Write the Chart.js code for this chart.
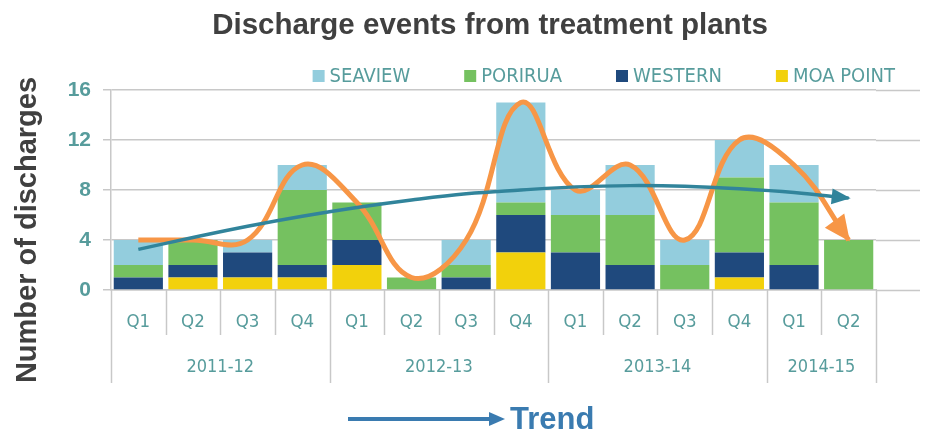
<!DOCTYPE html>
<html><head><meta charset="utf-8">
<script src="https://cdn.jsdelivr.net/npm/chart.js@4.4.1/dist/chart.umd.min.js"></script>
<style>html,body{margin:0;padding:0;background:#fff;}#wrap{position:relative;width:925px;height:433px;}</style>
</head><body><div id="wrap"><canvas id="c" width="925" height="433"></canvas></div>
<script>
const quarters = ['Q1','Q2','Q3','Q4','Q1','Q2','Q3','Q4','Q1','Q2','Q3','Q4','Q1','Q2'];
const years = ['2011-12','2012-13','2013-14','2014-15'];
const yearSpans = [4,4,4,2];
const moaPoint = [0,1,1,1,2,0,0,3,0,0,0,1,0,0];
const western  = [1,1,2,1,2,0,1,3,3,2,0,2,2,0];
const porirua  = [1,2,0,6,3,1,1,1,3,4,2,6,5,4];
const seaview  = [2,0,1,2,0,0,2,8,2,4,2,3,3,0];
const curveValues = [4,4,4,10,7,1,4,15,8,10,4,12,10,4];
const trendValues = [3.25,4.2,5.1,5.9,6.6,7.2,7.7,8.0,8.25,8.35,8.3,8.1,7.8,7.35];
const yTicks = [0,4,8,12,16];
const chartTitle = 'Discharge events from treatment plants';
const yTitle = 'Number of discharges';

const TEAL = '#579c9c';
const GRID = '#c8c8c8';
const NARROW = "'Liberation Sans Narrow','DejaVu Sans Condensed','Open Sans',sans-serif";
const BOLD = "'Liberation Sans',Arial,sans-serif";

const extrasPlugin = {
  id: 'extras',
  beforeDatasetsDraw(chart) {
    const c = chart.ctx, ys = chart.scales.y, a = chart.chartArea;
    c.save();
    c.strokeStyle = GRID; c.lineWidth = 1.5;
    yTicks.forEach(v => {
      const y = Math.round(ys.getPixelForValue(v)) + 0.5;
      c.beginPath(); c.moveTo(a.right, y); c.lineTo(920, y); c.stroke();
    });
    c.restore();
  },
  afterDatasetsDraw(chart) {
    const c = chart.ctx;
    const arrow = (dsIndex, color, len, half) => {
      const pts = chart.getDatasetMeta(dsIndex).data;
      const p = pts[pts.length - 1];
      const q = pts[pts.length - 2];
      let dx = p.x - (p.cp1x ?? q.x), dy = p.y - (p.cp1y ?? q.y);
      const L = Math.hypot(dx, dy); dx /= L; dy /= L;
      const bx = p.x - dx * len, by = p.y - dy * len;
      c.save(); c.fillStyle = color; c.beginPath();
      c.moveTo(p.x + dx * 2, p.y + dy * 2);
      c.lineTo(bx - dy * half, by + dx * half);
      c.lineTo(bx + dy * half, by - dx * half);
      c.closePath(); c.fill(); c.restore();
    };
    arrow(4, '#F79646', 24, 12);
    arrow(5, '#31849B', 17, 8);
  },
  afterDraw(chart) {
    const c = chart.ctx, xs = chart.scales.x, a = chart.chartArea;
    const step = xs.getPixelForValue(1) - xs.getPixelForValue(0);
    const bound = i => xs.getPixelForValue(0) - step / 2 + i * step;
    const yearBounds = [0];
    yearSpans.forEach(s => yearBounds.push(yearBounds[yearBounds.length - 1] + s));
    c.save();
    // title
    c.fillStyle = '#404040'; c.font = 'bold 29.5px ' + BOLD;
    c.textAlign = 'center'; c.textBaseline = 'middle';
    c.fillText(chartTitle, 490, 26);
    // category separators
    c.strokeStyle = GRID; c.lineWidth = 1.5;
    for (let i = 0; i <= quarters.length; i++) {
      const x = Math.round(bound(i)) + 0.5;
      const long = yearBounds.includes(i);
      c.beginPath(); c.moveTo(x, a.bottom); c.lineTo(x, long ? 383 : 335); c.stroke();
    }
    c.fillStyle = TEAL; c.font = '18px ' + NARROW; c.textAlign = 'center'; c.textBaseline = 'middle';
    years.forEach((yr, k) => {
      const x = (bound(yearBounds[k]) + bound(yearBounds[k + 1])) / 2;
      c.fillText(yr, x, 367);
    });
    // y axis title
    c.save();
    c.translate(28, 230); c.rotate(-Math.PI / 2);
    c.fillStyle = '#404040'; c.font = 'bold 29px ' + BOLD;
    c.textAlign = 'center'; c.textBaseline = 'middle';
    c.fillText(yTitle, 0, 0);
    c.restore();
    // legend
    const items = chart.data.datasets.slice(0, 4).reverse();
    c.font = '20px ' + NARROW; c.textAlign = 'left'; c.textBaseline = 'middle';
    const gap = 54, box = 12, tgap = 5;
    const widths = items.map(d => box + tgap + c.measureText(d.label).width);
    let x = 895 - widths.reduce((s, w) => s + w, 0) - gap * (items.length - 1);
    items.forEach((d, k) => {
      c.fillStyle = d.backgroundColor; c.fillRect(x, 70, box, box);
      c.fillStyle = TEAL; c.fillText(d.label, x + box + tgap, 77);
      x += widths[k] + gap;
    });
    // trend key
    c.strokeStyle = '#3A7BB0'; c.fillStyle = '#3A7BB0'; c.lineWidth = 4;
    c.beginPath(); c.moveTo(348, 419); c.lineTo(492, 419); c.stroke();
    c.beginPath(); c.moveTo(505, 419); c.lineTo(489, 412); c.lineTo(489, 426); c.closePath(); c.fill();
    c.font = 'bold 31px ' + BOLD; c.textAlign = 'left'; c.textBaseline = 'middle';
    c.fillText('Trend', 510, 420);
    c.restore();
  }
};

new Chart(document.getElementById('c'), {
  type: 'bar',
  data: {
    labels: quarters,
    datasets: [
      {label: 'MOA POINT', data: moaPoint, backgroundColor: '#F2D10C', stack: 's', order: 3},
      {label: 'WESTERN', data: western, backgroundColor: '#1F497D', stack: 's', order: 3},
      {label: 'PORIRUA', data: porirua, backgroundColor: '#75C160', stack: 's', order: 3},
      {label: 'SEAVIEW', data: seaview, backgroundColor: '#93CDDD', stack: 's', order: 3},
      {type: 'line', label: 'curve', data: curveValues, borderColor: '#F79646', borderWidth: 5, tension: 0.4, pointRadius: 0, fill: false, stack: 'c1', order: 2},
      {type: 'line', label: 'trend', data: trendValues, borderColor: '#31849B', borderWidth: 3.5, tension: 0.4, pointRadius: 0, fill: false, stack: 'c2', order: 1}
    ]
  },
  options: {
    responsive: false, animation: false, devicePixelRatio: 1,
    layout: {padding: {left: 0, right: 49, top: 90, bottom: 0}},
    datasets: {bar: {categoryPercentage: 1, barPercentage: 0.9}},
    plugins: {legend: {display: false}, tooltip: {enabled: false}, title: {display: false}},
    scales: {
      x: {
        stacked: true,
        grid: {display: false, drawTicks: false},
        border: {display: true, color: GRID, width: 1.5},
        ticks: {color: TEAL, font: {family: NARROW, size: 18.5}, padding: 21, maxRotation: 0, autoSkip: false},
        afterFit: s => { s.height = 143; }
      },
      y: {
        stacked: true, min: 0, max: 16,
        afterBuildTicks: s => { s.ticks = yTicks.map(v => ({value: v})); },
        ticks: {color: TEAL, font: {family: BOLD, size: 21, weight: 'bold'}, padding: 12},
        grid: {color: GRID, lineWidth: 1.5, tickLength: 8, drawTicks: true},
        border: {display: true, color: GRID, width: 1.5},
        afterFit: s => { s.width = 111; }
      }
    }
  },
  plugins: [extrasPlugin]
});
</script></body></html>
